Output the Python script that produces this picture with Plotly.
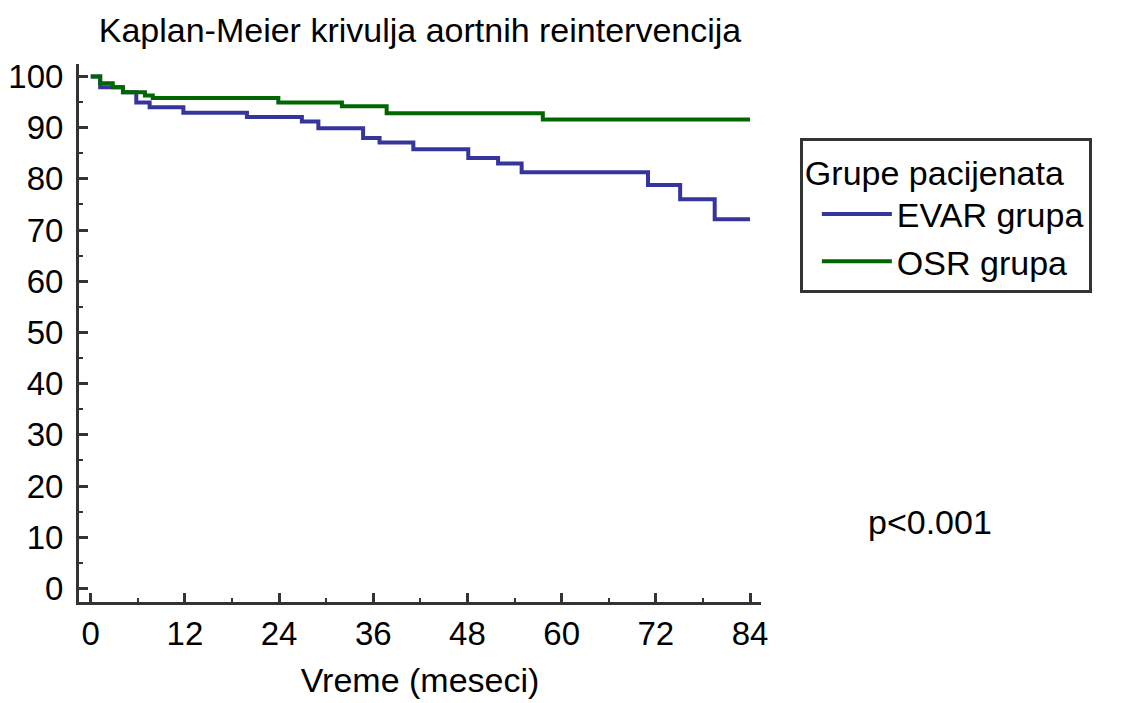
import plotly.graph_objects as go

# Kaplan-Meier step data (months, % free of reintervention)
evar_time = [0, 1.2, 4.1, 5.8, 7.5, 11.8, 19.9, 26.9, 29.0, 34.7, 36.8, 41.1, 48.1, 51.9, 54.9, 71.0, 75.1, 79.5, 84]
evar_surv = [100, 97.9, 96.9, 94.9, 94.0, 92.9, 92.1, 91.2, 89.9, 88.0, 87.1, 85.8, 84.1, 83.0, 81.3, 78.8, 76.0, 72.1, 72.1]

osr_time = [0, 1.2, 2.8, 4.1, 6.9, 7.9, 23.9, 32.0, 37.7, 57.6, 84]
osr_surv = [100, 98.7, 97.9, 96.9, 96.3, 95.8, 94.9, 94.2, 92.8, 91.6, 91.6]

x_ticks = [0, 12, 24, 36, 48, 60, 72, 84]
y_ticks = [0, 10, 20, 30, 40, 50, 60, 70, 80, 90, 100]

FONT = "Liberation Sans, Arial, sans-serif"
TXT = 34

fig = go.Figure()
fig.add_trace(go.Scatter(x=evar_time, y=evar_surv, mode="lines", line_shape="hv",
                         name="EVAR grupa", line=dict(color="#35359c", width=4)))
fig.add_trace(go.Scatter(x=osr_time, y=osr_surv, mode="lines", line_shape="hv",
                         name="OSR grupa", line=dict(color="#006600", width=4)))

axis_common = dict(
    showline=True, linecolor="#333333", linewidth=3, mirror=False,
    ticks="inside", ticklen=9, tickwidth=3, tickcolor="#333333",
    showgrid=False, zeroline=False, automargin=False,
    tickfont=dict(family=FONT, size=33, color="black"),
)

fig.update_xaxes(range=[-1.5, 85.4], tickvals=x_ticks,
                 minor=dict(dtick=6, tick0=0, ticks="inside", ticklen=4, tickwidth=2, tickcolor="#333333"),
                 ticklabelstandoff=0,
                 title=dict(text="Vreme (meseci)", font=dict(family=FONT, size=TXT, color="black"), standoff=18),
                 **axis_common)
fig.update_yaxes(range=[-2.64, 102.44], tickvals=y_ticks,
                 minor=dict(dtick=5, tick0=0, ticks="inside", ticklen=4, tickwidth=2, tickcolor="#333333"),
                 ticklabelstandoff=6,
                 **axis_common)

fig.add_annotation(text="p<0.001", xref="paper", yref="paper", x=1.248, y=0.149,
                   xanchor="center", yanchor="middle",
                   showarrow=False, font=dict(family=FONT, size=TXT, color="black"))

fig.update_layout(
    width=1123, height=703,
    margin=dict(l=79, r=362, t=64, b=101),
    paper_bgcolor="white", plot_bgcolor="white",
    title=dict(text="Kaplan-Meier krivulja aortnih reintervencija", x=0.374, xanchor="center",
               y=1 - 30 / 703, yanchor="middle", yref="container",
               font=dict(family=FONT, size=TXT, color="black")),
    legend=dict(x=1.057, y=0.862, xanchor="left", yanchor="top",
                bordercolor="#333333", borderwidth=3, bgcolor="white",
                font=dict(family=FONT, size=TXT, color="black"),
                title=dict(text="Grupe pacijenata", font=dict(family=FONT, size=TXT, color="black")),
                itemwidth=70, indentation=14, tracegroupgap=0),
    showlegend=True,
)

fig.write_html("out.html")
